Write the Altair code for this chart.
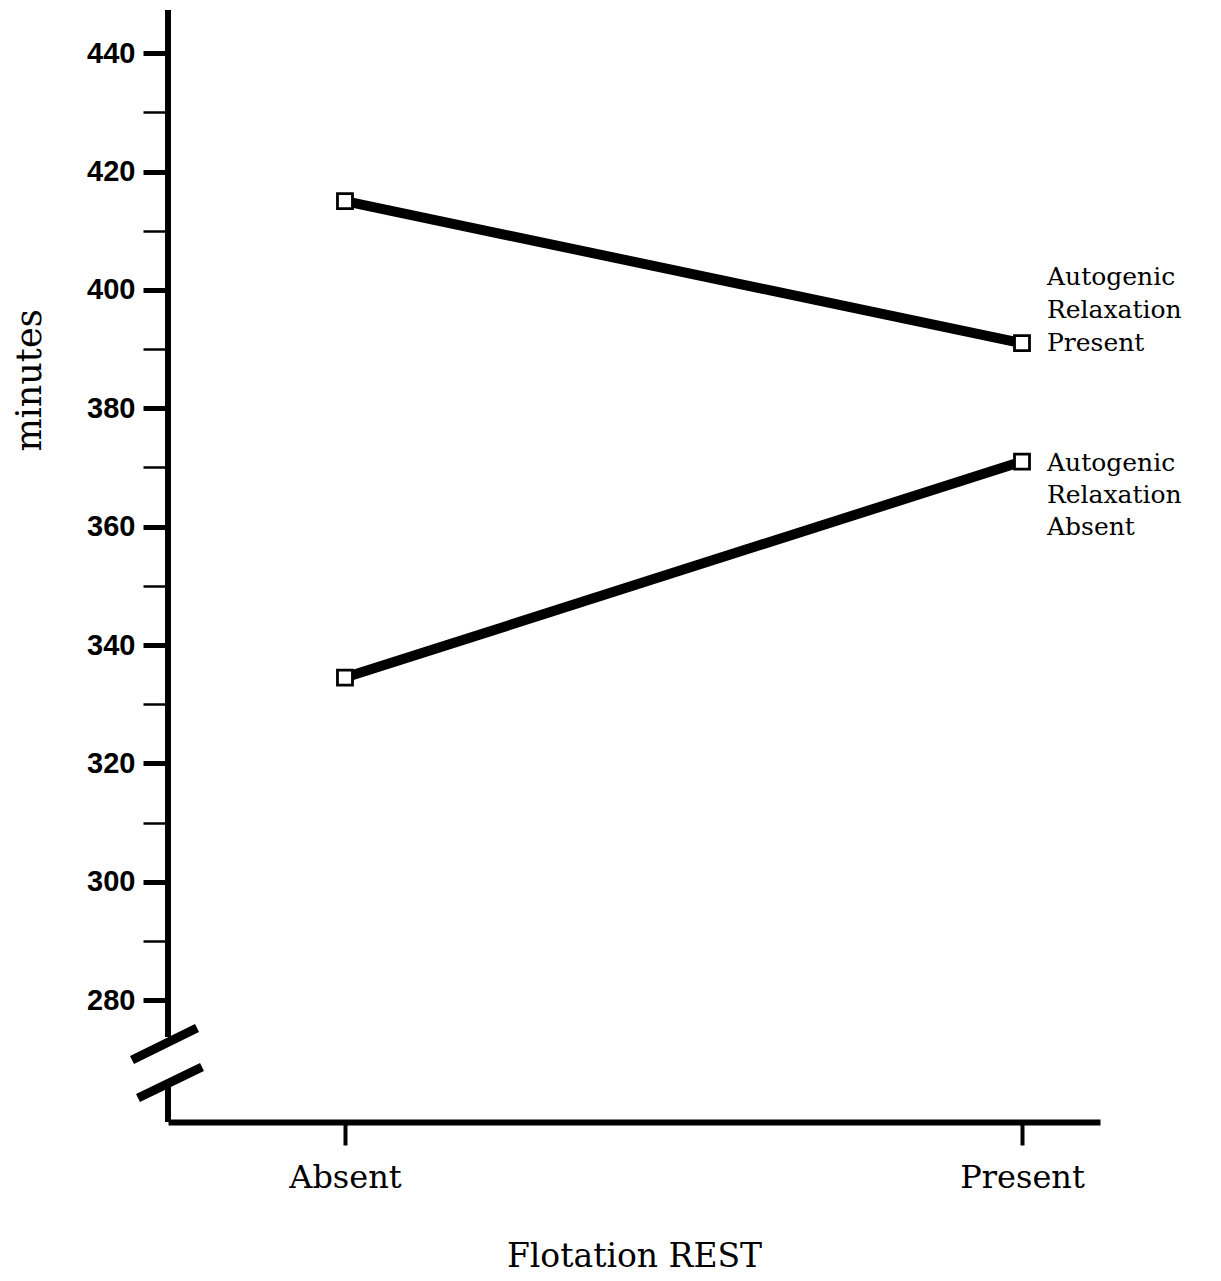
import altair as alt
import pandas as pd

# ---- data ----
flotation = ["Absent", "Present"]
series_names = ["Autogenic\nRelaxation\nPresent", "Autogenic\nRelaxation\nAbsent"]
ar_present = [415, 391]
ar_absent = [334.5, 371]
y_major = [280, 300, 320, 340, 360, 380, 400, 420, 440]
y_all = [280, 290, 300, 310, 320, 330, 340, 350, 360, 370, 380, 390, 400, 410, 420, 430, 440]

rows = []
for s, vals in zip(series_names, [ar_present, ar_absent]):
    for i, (f, v) in enumerate(zip(flotation, vals)):
        rows.append({"series": s, "pos": i, "flotation": f, "minutes": v})
df = pd.DataFrame(rows)
lab_df = df[df["pos"] == 1].copy()

XDOM = [-0.2614, 1.1152]
YDOM = [259.4, 447.3]
SERIF = "DejaVu Serif"

label_expr = " : ".join(
    [f"datum.value == {i} ? '{f}'" for i, f in enumerate(flotation)]
) + " : ''"

x_enc = alt.X(
    "pos:Q",
    scale=alt.Scale(domain=XDOM, nice=False, zero=False),
    axis=alt.Axis(
        title="Flotation REST",
        values=[0, 1],
        labelExpr=label_expr,
        grid=False,
        domainWidth=6,
        domainColor="black",
        tickColor="black",
        tickWidth=4,
        tickSize=23,
        labelFont=SERIF,
        labelFontSize=32,
        labelColor="black",
        labelPadding=17,
        titleFont=SERIF,
        titleFontSize=33,
        titleFontWeight="normal",
        titleColor="black",
        titlePadding=47,
    ),
)
y_enc = alt.Y(
    "minutes:Q",
    scale=alt.Scale(domain=YDOM, nice=False, zero=False),
    axis=alt.Axis(
        title="minutes",
        values=y_all,
        labelExpr="datum.value % 20 == 0 ? datum.label : ''",
        grid=False,
        domain=False,
        tickColor="black",
        tickWidth={"condition": {"test": "datum.value % 20 == 0", "value": 5}, "value": 2.5},
        tickSize=25,
        labelFont="Liberation Sans",
        labelFontWeight="bold",
        labelFontSize=29,
        labelColor="black",
        labelPadding=8,
        titleFont=SERIF,
        titleFontSize=35,
        titleFontWeight="normal",
        titleColor="black",
        titleAngle=270,
        titleAlign="center",
        titleBaseline="middle",
        titleX=-139,
        titleY=370,
    ),
)

base = alt.Chart(df)

lines = base.mark_line(color="black", strokeWidth=10).encode(x=x_enc, y=y_enc, detail="series:N")
points = base.mark_point(
    shape="square", filled=True, fill="white", stroke="black", strokeWidth=2.8, size=225, opacity=1
).encode(x="pos:Q", y="minutes:Q")

lab_top = alt.Chart(lab_df[lab_df["series"] == series_names[0]]).mark_text(
    align="left", baseline="middle", dx=25, dy=-66, lineBreak="\n", lineHeight=33,
    font=SERIF, fontSize=25, color="black"
).encode(x="pos:Q", y="minutes:Q", text="series:N")
lab_bot = alt.Chart(lab_df[lab_df["series"] == series_names[1]]).mark_text(
    align="left", baseline="middle", dx=25, dy=1, lineBreak="\n", lineHeight=32,
    font=SERIF, fontSize=25, color="black"
).encode(x="pos:Q", y="minutes:Q", text="series:N")

# y axis line with a scale break (decoration)
deco = pd.DataFrame({"k": [0]})
axis_top = alt.Chart(deco).mark_rule(color="black", strokeWidth=6, strokeCap="butt").encode(
    x=alt.value(0), y=alt.value(0), y2=alt.value(1027)
)
axis_bot = alt.Chart(deco).mark_rule(color="black", strokeWidth=6, strokeCap="butt").encode(
    x=alt.value(0), y=alt.value(1073), y2=alt.value(1112)
)
brk1 = alt.Chart(deco).mark_rule(color="black", strokeWidth=9, strokeCap="butt").encode(
    x=alt.value(-36), x2=alt.value(29), y=alt.value(1050), y2=alt.value(1018)
)
brk2 = alt.Chart(deco).mark_rule(color="black", strokeWidth=9, strokeCap="butt").encode(
    x=alt.value(-30), x2=alt.value(34), y=alt.value(1088), y2=alt.value(1057)
)

chart = alt.layer(
    lines, points, lab_top, lab_bot, axis_top, axis_bot, brk1, brk2
).properties(
    width=932,
    height=1112,
    autosize=alt.AutoSizeParams(type="none"),
    padding={"left": 160, "top": 2, "right": 110, "bottom": 158},
    background="white",
).configure_view(stroke=None)

chart.save("out.html", embed_options={"renderer": "svg", "actions": False})
